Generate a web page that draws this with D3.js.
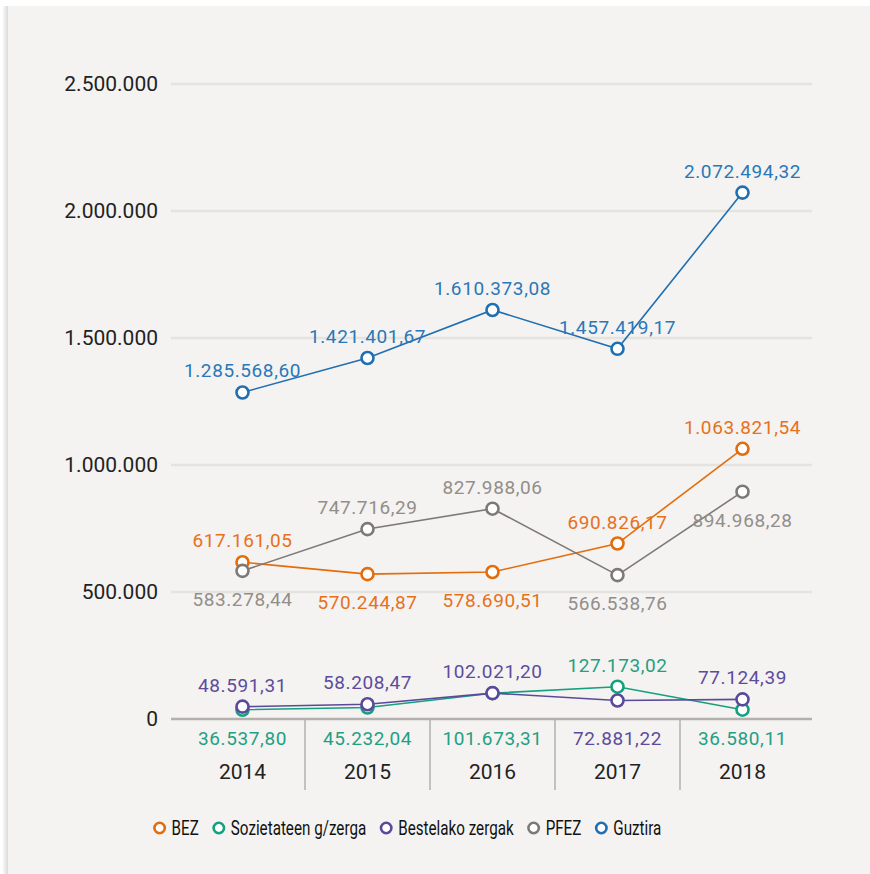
<!DOCTYPE html>
<html>
<head>
<meta charset="utf-8">
<script src="https://cdn.jsdelivr.net/npm/d3@7"></script>
<style>
  body { margin: 0; background: #fff; }
  svg { display: block; }
</style>
</head>
<body>
<div id="chart"></div>
<script>
"use strict";

var years = ["2014", "2015", "2016", "2017", "2018"];
var seriesNames = ["BEZ", "Sozietateen g/zerga", "Bestelako zergak", "PFEZ", "Guztira"];
var bez = [617161.05, 570244.87, 578690.51, 690826.17, 1063821.54];
var sozietateen = [36537.80, 45232.04, 101673.31, 127173.02, 36580.11];
var bestelako = [48591.31, 58208.47, 102021.20, 72881.22, 77124.39];
var pfez = [583278.44, 747716.29, 827988.06, 566538.76, 894968.28];
var guztira = [1285568.60, 1421401.67, 1610373.08, 1457419.17, 2072494.32];
var yTicks = [0, 500000, 1000000, 1500000, 2000000, 2500000];
// where each value label sits: "a" above the marker, "b" below
var labelSide = [
  ["a", "b", "b", "a", "a"],
  ["b", "b", "b", "a", "b"],
  ["a", "a", "a", "b", "a"],
  ["b", "a", "a", "b", "b"],
  ["a", "a", "a", "a", "a"]
];

var lineColors = ["#e46c0a", "#15a07f", "#5b4a9b", "#7d7976", "#1f6fb2"];
var textColors = ["#e6711c", "#1fa083", "#5d4c9c", "#928e8a", "#2a78b8"];

var allValues = [bez, sozietateen, bestelako, pfez, guztira];

var width = 870, height = 874;
var font = "Roboto, sans-serif";

var svg = d3.select("#chart")
  .append("svg")
  .attr("width", width)
  .attr("height", height);

// panel with a soft shadow on the left
var grad = svg.append("defs").append("linearGradient")
  .attr("id", "shadow").attr("x1", 0).attr("x2", 1);
grad.append("stop").attr("offset", "0%").attr("stop-color", "#ffffff");
grad.append("stop").attr("offset", "100%").attr("stop-color", "#d9d9d9");
svg.append("rect").attr("x", 2).attr("y", 6).attr("width", 6).attr("height", height).attr("fill", "url(#shadow)");
svg.append("rect").attr("x", 8).attr("y", 6).attr("width", width - 8).attr("height", height).attr("fill", "#f4f3f1");

var x = d3.scaleBand().domain(years).range([180, 805]);
var y = d3.scaleLinear().domain([0, 2500000]).range([719, 84]);

var loc = d3.formatLocale({decimal: ",", thousands: ".", grouping: [3], currency: ["", ""]});
var fmtTick = loc.format(",.0f");
var fmtVal = loc.format(",.2f");

// gridlines
svg.append("g")
  .selectAll("line")
  .data(yTicks.filter(function(d) { return d > 0; }))
  .enter()
  .append("line")
  .attr("x1", 171).attr("x2", 812)
  .attr("y1", function(d) { return y(d); })
  .attr("y2", function(d) { return y(d); })
  .attr("stroke", "#e5e3e0")
  .attr("stroke-width", 2.5);

// y axis labels
var yAxis = svg.append("g")
  .attr("transform", "translate(171,0)")
  .call(d3.axisLeft(y).tickValues(yTicks).tickFormat(fmtTick).tickSize(0).tickPadding(13));
yAxis.select(".domain").remove();
yAxis.selectAll("text")
  .attr("font-family", font)
  .attr("font-size", 21)
  .attr("fill", "#222");

// baseline
svg.append("line")
  .attr("x1", 171).attr("x2", 812)
  .attr("y1", y(0)).attr("y2", y(0))
  .attr("stroke", "#b3b0ad")
  .attr("stroke-width", 2.5);

// category separators
svg.append("g")
  .selectAll("line")
  .data(years.slice(1))
  .enter()
  .append("line")
  .attr("x1", function(d) { return x(d); })
  .attr("x2", function(d) { return x(d); })
  .attr("y1", y(0) + 1).attr("y2", 790)
  .attr("stroke", "#b3b0ad")
  .attr("stroke-width", 1.5);

// x axis labels
var xAxis = svg.append("g")
  .attr("transform", "translate(0," + y(0) + ")")
  .call(d3.axisBottom(x).tickSize(0).tickPadding(45));
xAxis.select(".domain").remove();
xAxis.selectAll("text")
  .attr("font-family", font)
  .attr("font-size", 21)
  .attr("fill", "#222");

var line = d3.line()
  .x(function(d, i) { return x(years[i]) + x.bandwidth() / 2; })
  .y(function(d) { return y(d); });

var series = svg.selectAll(".series")
  .data(allValues)
  .enter()
  .append("g")
  .attr("class", "series");

series.append("path")
  .attr("d", function(d) { return line(d); })
  .attr("fill", "none")
  .attr("stroke", function(d, i) { return lineColors[i]; })
  .attr("stroke-width", 1.6);

series.each(function(vals, si) {
  d3.select(this).selectAll("circle")
    .data(vals)
    .enter()
    .append("circle")
    .attr("cx", function(d, i) { return x(years[i]) + x.bandwidth() / 2; })
    .attr("cy", function(d) { return y(d); })
    .attr("r", 6)
    .attr("fill", "#fff")
    .attr("stroke", lineColors[si])
    .attr("stroke-width", 2.6);
});

// value labels; "below" labels of markers close to the baseline go under it
series.each(function(vals, si) {
  d3.select(this).selectAll("text")
    .data(vals)
    .enter()
    .append("text")
    .attr("x", function(d, i) { return x(years[i]) + x.bandwidth() / 2; })
    .attr("y", function(d, i) {
      if (labelSide[si][i] === "a") return y(d) - 15;
      return y(d) > y(0) - 60 ? y(0) + 26 : y(d) + 35;
    })
    .attr("text-anchor", "middle")
    .attr("font-family", font)
    .attr("font-size", 19)
    .attr("letter-spacing", 0.6)
    .attr("fill", textColors[si])
    .text(function(d) { return fmtVal(d); });
});

// legend, squeezed horizontally like the condensed face of the original
var squeeze = 0.76;
var legend = svg.append("g");
var items = legend.selectAll(".legend")
  .data(seriesNames)
  .enter()
  .append("g")
  .attr("class", "legend");
items.append("circle")
  .attr("r", 5.2)
  .attr("fill", "#fff")
  .attr("stroke", function(d, i) { return lineColors[i]; })
  .attr("stroke-width", 2.6);
items.append("text")
  .attr("transform", "translate(12,7) scale(" + squeeze + ",1)")
  .attr("font-family", font)
  .attr("font-size", 20)
  .attr("fill", "#111")
  .text(function(d) { return d; });
var lx = 0;
items.each(function() {
  var w = d3.select(this).select("text").node().getComputedTextLength() * squeeze;
  d3.select(this).attr("transform", "translate(" + (lx + 5) + ",0)");
  lx += 5 + 12 + w + 15;
});
var totalW = lx - 15;
legend.attr("transform", "translate(" + (408 - totalW / 2) + ",828)");
</script>
</body>
</html>
